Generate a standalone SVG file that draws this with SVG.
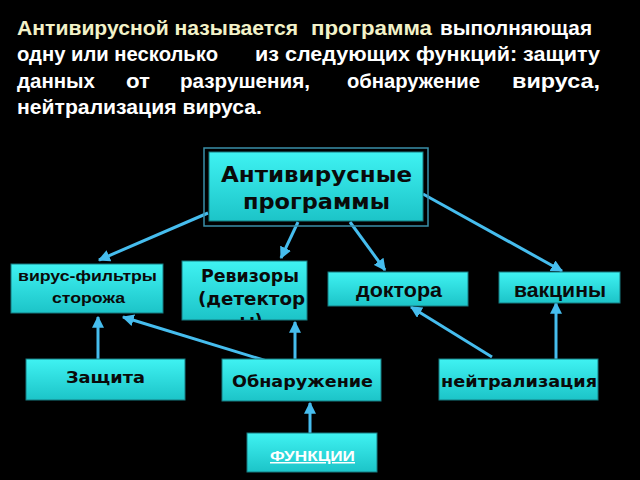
<svg xmlns="http://www.w3.org/2000/svg" width="640" height="480" viewBox="0 0 640 480">
<defs>
<linearGradient id="cy" x1="0" y1="0" x2="0" y2="1">
<stop offset="0" stop-color="#3ff2f2"/>
<stop offset="1" stop-color="#1cc4c8"/>
</linearGradient>
<marker id="ah" viewBox="0 0 10 10" refX="9" refY="5" markerWidth="4" markerHeight="4" orient="auto" markerUnits="strokeWidth">
<path d="M0,0 L10,5 L0,10 z" fill="#46bdee"/>
</marker>
<clipPath id="revClip"><rect x="182" y="261" width="125" height="59"/></clipPath>
</defs>
<style>
.box{fill:url(#cy);stroke:#167a80;stroke-width:1}
.t{font-family:"Liberation Sans",Arial,sans-serif;font-weight:bold;font-size:20px}
.w{fill:#ffffff}
.y{fill:#f2f2c8}
.dv{font-family:"DejaVu Sans",Verdana,sans-serif;font-weight:bold;fill:#0a0a0a}
.ar{font-family:"Liberation Sans",Arial,sans-serif;font-weight:bold;fill:#0a0a0a}
.c{stroke:#46bdee;stroke-width:3;fill:none}
.ca{stroke:#46bdee;stroke-width:3;fill:none;marker-end:url(#ah)}
</style>
<rect width="640" height="480" fill="#000000"/>
<g id="title">
<text class="t y" x="17" y="35" textLength="281" lengthAdjust="spacingAndGlyphs">Антивирусной называется</text>
<text class="t y" x="311" y="35" textLength="121" lengthAdjust="spacingAndGlyphs">программа</text>
<text class="t w" x="440" y="35" textLength="152" lengthAdjust="spacingAndGlyphs">выполняющая</text>
<text class="t w" x="17" y="61" textLength="201" lengthAdjust="spacingAndGlyphs">одну или несколько</text>
<text class="t w" x="255" y="61" textLength="345" lengthAdjust="spacingAndGlyphs">из следующих функций: защиту</text>
<text class="t w" x="17" y="88" textLength="78" lengthAdjust="spacingAndGlyphs">данных</text>
<text class="t w" x="126" y="88" textLength="24" lengthAdjust="spacingAndGlyphs">от</text>
<text class="t w" x="180" y="88" textLength="130" lengthAdjust="spacingAndGlyphs">разрушения,</text>
<text class="t w" x="347" y="88" textLength="133" lengthAdjust="spacingAndGlyphs">обнаружение</text>
<text class="t w" x="512" y="88" textLength="88" lengthAdjust="spacingAndGlyphs">вируса,</text>
<text class="t w" x="17" y="114" textLength="245" lengthAdjust="spacingAndGlyphs">нейтрализация вируса.</text>
</g>
<g id="connectors">
<line class="ca" x1="208" y1="213" x2="99" y2="260"/>
<line class="ca" x1="298" y1="222" x2="281" y2="258"/>
<line class="ca" x1="350" y1="222" x2="385" y2="270"/>
<line class="ca" x1="423" y1="194" x2="562" y2="271"/>
<line class="ca" x1="98" y1="359" x2="98" y2="317"/>
<line class="ca" x1="270" y1="362" x2="123" y2="317"/>
<line class="ca" x1="295" y1="360" x2="295" y2="322"/>
<line class="ca" x1="492" y1="357" x2="411" y2="307"/>
<line class="ca" x1="556" y1="360" x2="556" y2="303"/>
<line class="ca" x1="310" y1="440" x2="310" y2="403"/>
</g>
<g id="node-antivirus">
<rect x="204" y="148" width="224" height="78" fill="none" stroke="#3a8ea8" stroke-width="1.5"/>
<rect class="box" x="209" y="152" width="214" height="69"/>
<text class="dv" x="221" y="182" font-size="21" textLength="191" lengthAdjust="spacingAndGlyphs">Антивирусные</text>
<text class="dv" x="243" y="209" font-size="21" textLength="147" lengthAdjust="spacingAndGlyphs">программы</text>
</g>
<g id="node-filters">
<rect class="box" x="11" y="264" width="152" height="49"/>
<text class="ar" x="18" y="281" font-size="15.5" textLength="139" lengthAdjust="spacingAndGlyphs">вирус-фильтры</text>
<text class="ar" x="52" y="303" font-size="15.5" textLength="73" lengthAdjust="spacingAndGlyphs">сторожа</text>
</g>
<g id="node-revizory">
<rect class="box" x="182" y="261" width="125" height="59"/>
<g clip-path="url(#revClip)">
<text class="dv" x="201" y="282" font-size="17" textLength="98" lengthAdjust="spacingAndGlyphs">Ревизоры</text>
<text class="dv" x="198" y="305" font-size="17" textLength="107" lengthAdjust="spacingAndGlyphs">(детектор</text>
<text class="dv" x="251" y="327" font-size="17" text-anchor="middle">ы)</text>
</g>
</g>
<g id="node-doktora">
<rect class="box" x="328" y="272" width="140" height="34"/>
<text class="ar" x="356" y="297" font-size="20" textLength="86" lengthAdjust="spacingAndGlyphs">доктора</text>
</g>
<g id="node-vakciny">
<rect class="box" x="499" y="272" width="121" height="31"/>
<text class="ar" x="514" y="297" font-size="20" textLength="92" lengthAdjust="spacingAndGlyphs">вакцины</text>
</g>
<g id="node-zashchita">
<rect class="box" x="26" y="359" width="159" height="41"/>
<text class="dv" x="66" y="383" font-size="16" textLength="79" lengthAdjust="spacingAndGlyphs">Защита</text>
</g>
<g id="node-obnaruzhenie">
<rect class="box" x="222" y="359" width="159" height="42"/>
<text class="dv" x="232" y="387" font-size="16" textLength="141" lengthAdjust="spacingAndGlyphs">Обнаружение</text>
</g>
<g id="node-neitralizaciya">
<rect class="box" x="439" y="359" width="159" height="41"/>
<text class="dv" x="441" y="387" font-size="16" textLength="156" lengthAdjust="spacingAndGlyphs">нейтрализация</text>
</g>
<g id="node-funkcii">
<rect class="box" x="247" y="433" width="130" height="39"/>
<text class="ar" x="270" y="461" font-size="15" textLength="85" lengthAdjust="spacingAndGlyphs" style="fill:#ffffff" text-decoration="underline">ФУНКЦИИ</text>
</g>
</svg>
